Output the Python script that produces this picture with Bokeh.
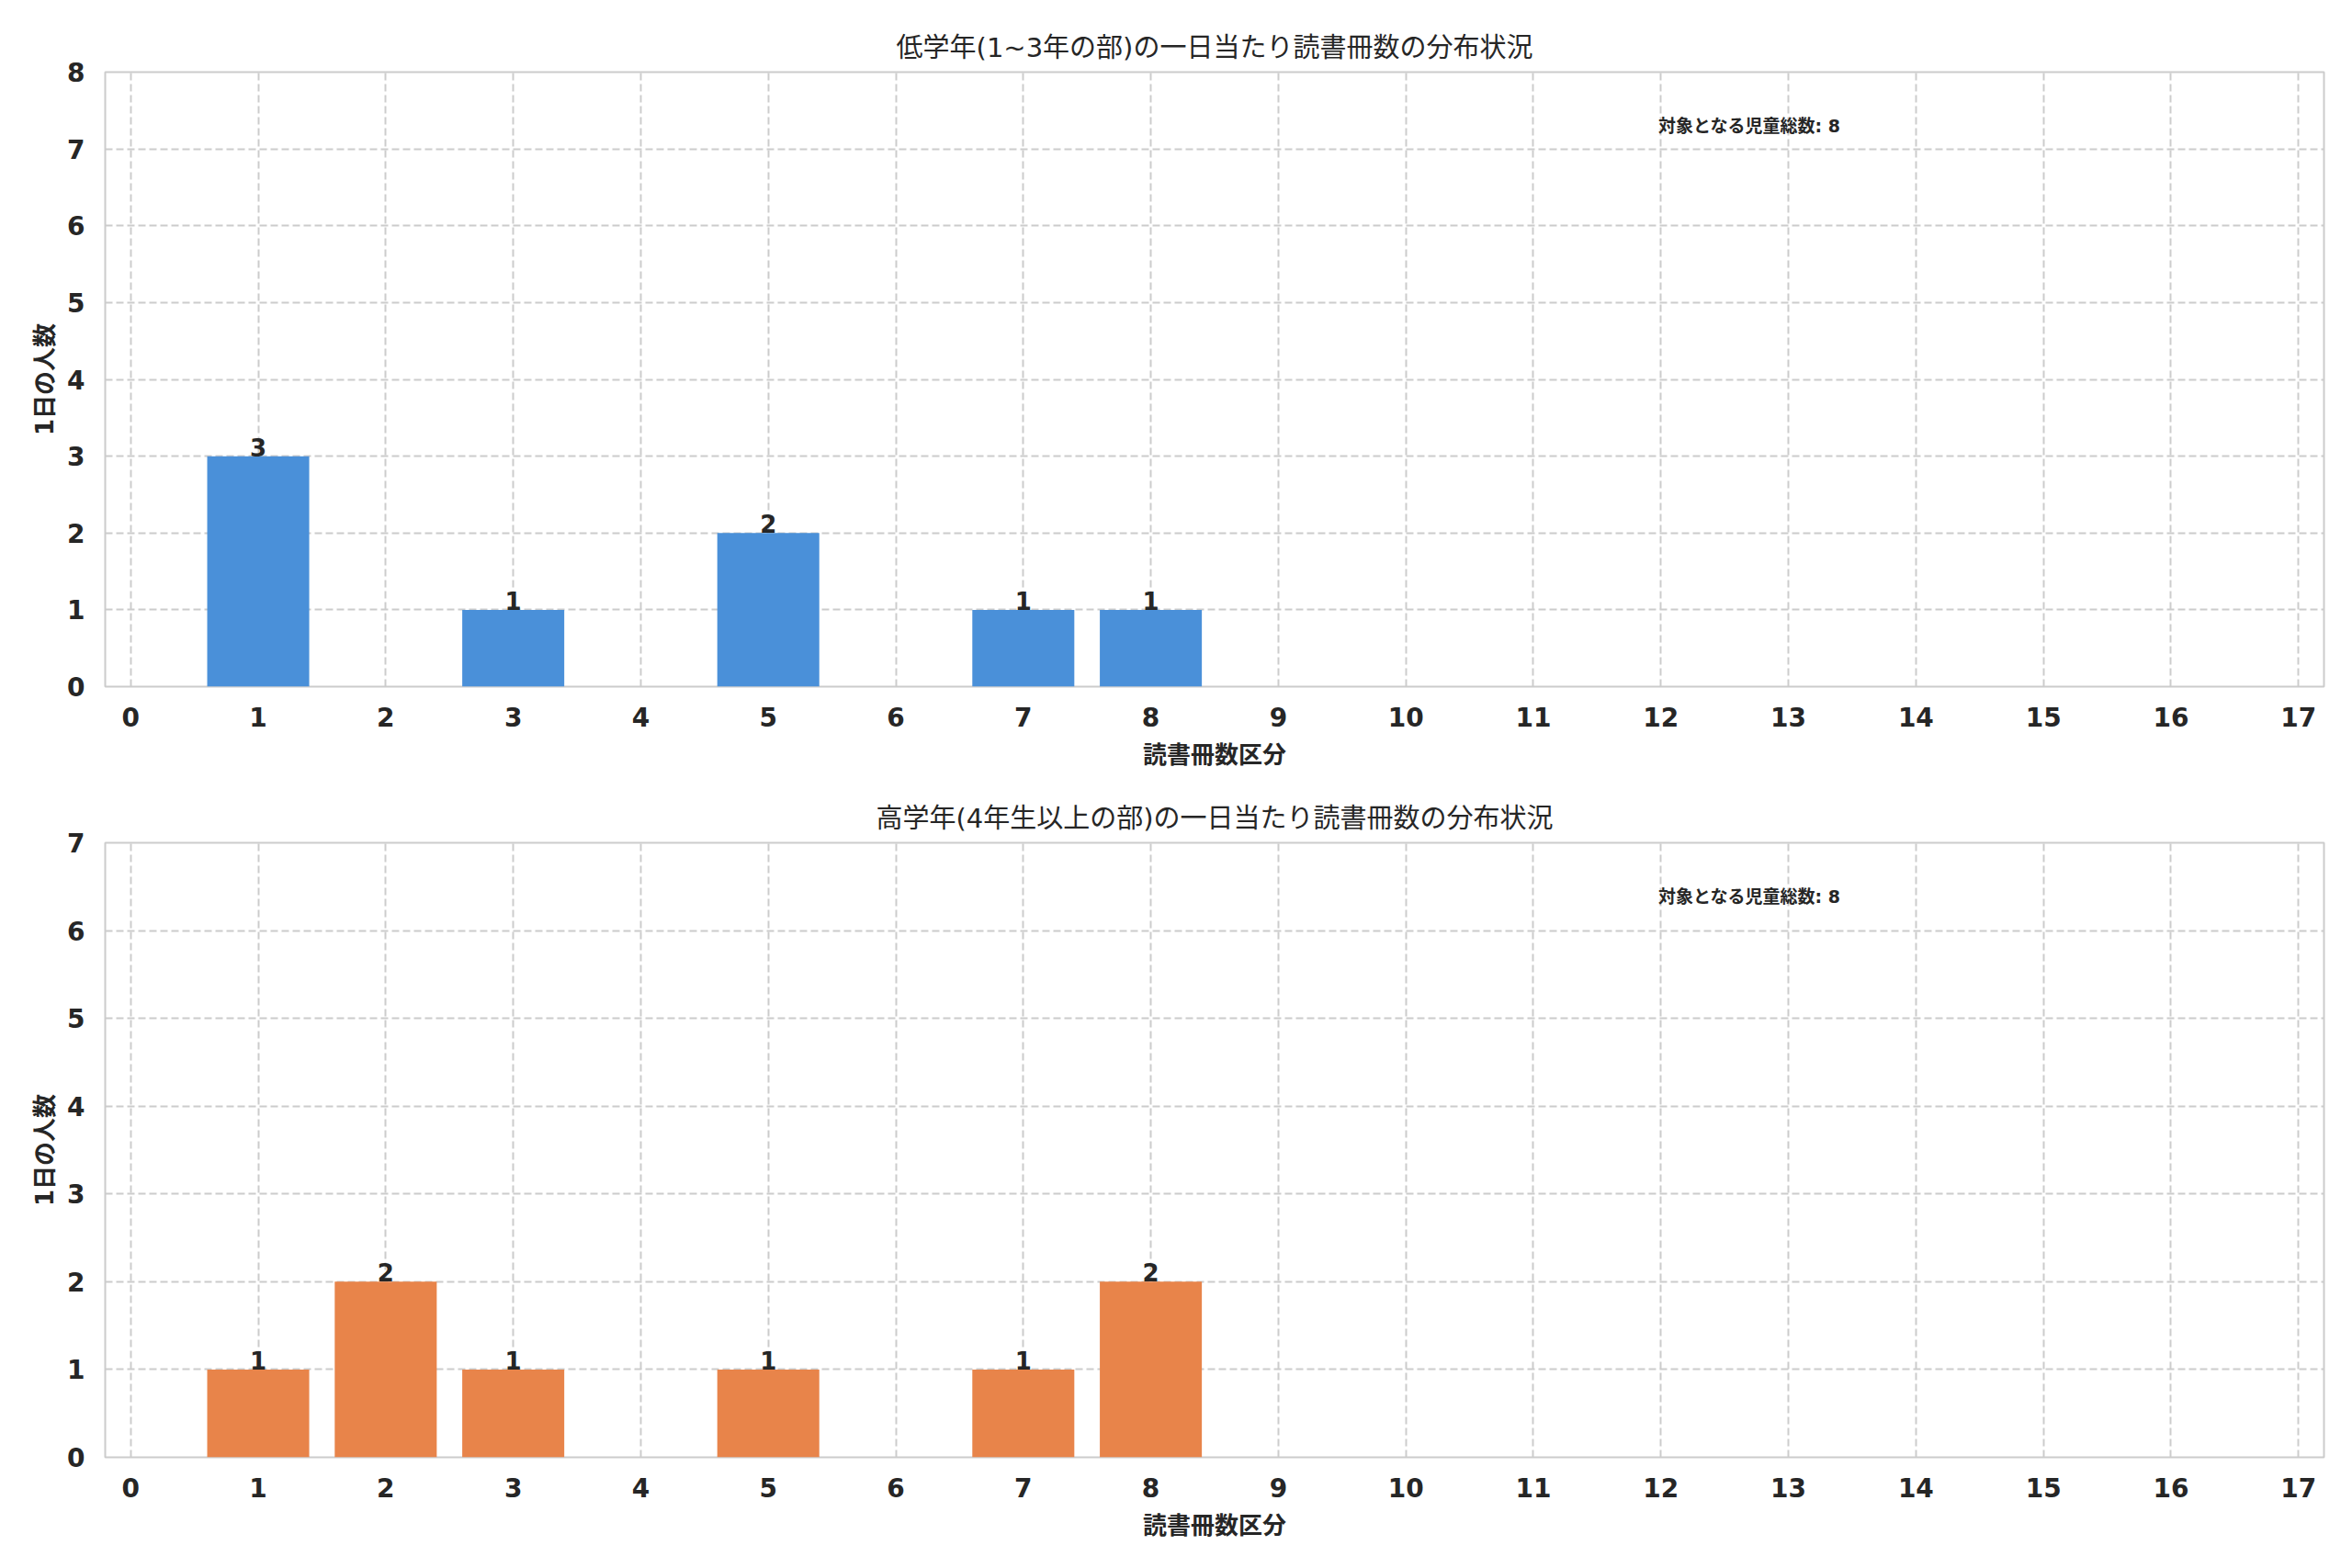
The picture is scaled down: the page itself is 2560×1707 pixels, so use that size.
from bokeh.plotting import figure
from bokeh.models import Range1d, ColumnDataSource, Label
from bokeh.layouts import column
from bokeh.embed import file_html
from bokeh.resources import INLINE
from bokeh.core.properties import value

# ---- data ----
bins = list(range(18))
low_counts = [0, 3, 0, 1, 0, 2, 0, 1, 1, 0, 0, 0, 0, 0, 0, 0, 0, 0]
high_counts = [0, 1, 2, 1, 0, 1, 0, 1, 2, 0, 0, 0, 0, 0, 0, 0, 0, 0]
low_title = "低学年(1~3年の部)の一日当たり読書冊数の分布状況"
high_title = "高学年(4年生以上の部)の一日当たり読書冊数の分布状況"
x_label = "読書冊数区分"
y_label = "1日の人数"
total_label = "対象となる児童総数"
low_ymax = 8
high_ymax = 7

FONT = "DejaVu Sans, 'Noto Sans CJK JP'"
TXT = "#262626"


def make_plot(title, counts, ymax, color, top_border):
    p = figure(frame_width=2415, frame_height=669,
               x_range=Range1d(-0.2, 17.2), y_range=Range1d(0, ymax),
               output_backend="svg", toolbar_location=None,
               min_border_left=114, min_border_right=16,
               min_border_top=top_border, min_border_bottom=100,
               title=title)
    p.title.text_font = FONT
    p.title.text_font_size = "29px"
    p.title.text_font_style = "normal"
    p.title.text_color = TXT
    p.title.align = "center"
    p.title.standoff = 19

    p.outline_line_color = "#cccccc"
    p.outline_line_width = 2
    p.background_fill_color = "white"
    p.border_fill_color = "white"

    for g in (p.xgrid, p.ygrid):
        g.grid_line_color = "#cccccc"
        g.grid_line_width = 2
        g.grid_line_dash = "8 4"

    p.xaxis.ticker = bins
    p.yaxis.ticker = list(range(0, ymax + 1))
    for ax in (p.xaxis, p.yaxis):
        ax.axis_line_color = None
        ax.major_tick_line_color = None
        ax.minor_tick_line_color = None
        ax.major_label_text_font = FONT
        ax.major_label_text_font_size = "28px"
        ax.major_label_text_font_style = "bold"
        ax.major_label_text_color = TXT
        ax.axis_label_text_font = FONT
        ax.axis_label_text_font_size = "26px"
        ax.axis_label_text_font_style = "bold"
        ax.axis_label_text_color = TXT
    p.xaxis.major_label_standoff = 16
    p.yaxis.major_label_standoff = 16
    p.xaxis.axis_label_standoff = 13
    p.yaxis.axis_label_standoff = 6
    p.xaxis.axis_label = x_label
    p.yaxis.axis_label = y_label

    xs = [b for b, c in zip(bins, counts) if c > 0]
    ys = [c for c in counts if c > 0]
    src = ColumnDataSource(dict(x=xs, top=ys, lab=[str(v) for v in ys]))
    p.vbar(x="x", top="top", width=0.8, bottom=0, source=src,
           fill_color=color, line_color=None)
    p.text(x="x", y="top", text="lab", source=src,
           text_align="center", text_baseline="bottom", y_offset=0,
           text_font=value(FONT), text_font_size="26px",
           text_font_style="bold", text_color=TXT)

    total = sum(counts)
    p.add_layout(Label(x=11.98, y=ymax * 0.912, text=f"{total_label}: {total}",
                       text_font=FONT, text_font_size="19px",
                       text_font_style="bold", text_color=TXT,
                       text_align="left", text_baseline="middle"))
    return p


p1 = make_plot(low_title, low_counts, low_ymax, "#4A90D9", 78)
p2 = make_plot(high_title, high_counts, high_ymax, "#E8844A", 70)
layout = column(p1, p2, spacing=0)

open("out.html", "w").write(file_html(layout, INLINE))
